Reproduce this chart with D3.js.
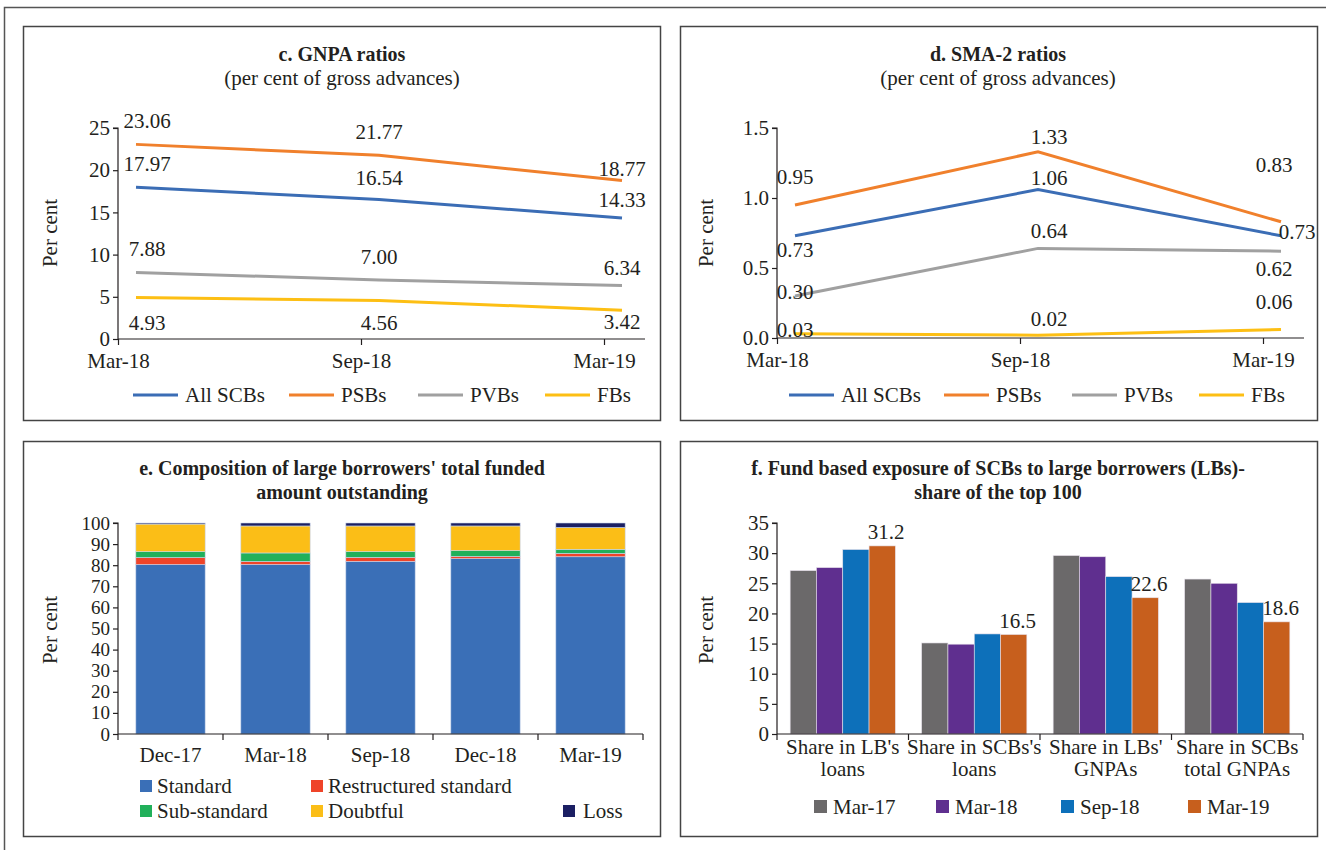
<!DOCTYPE html>
<html><head><meta charset="utf-8">
<script src="https://cdn.jsdelivr.net/npm/d3@7"></script>
<style>
body{margin:0;background:#fff}
svg{display:block}
text{font-family:"Liberation Serif","Times New Roman",serif;fill:#231f20}
</style>
</head><body>
<svg id="chart" width="1326" height="850"></svg>
<script>
// ---------- DATA ----------
const lineDates = ["Mar-18", "Sep-18", "Mar-19"];
const gnpaAll = [17.97, 16.54, 14.33];
const gnpaPSB = [23.06, 21.77, 18.77];
const gnpaPVB = [7.88, 7.00, 6.34];
const gnpaFB = [4.93, 4.56, 3.42];
const smaAll = [0.73, 1.06, 0.73];
const smaPSB = [0.95, 1.33, 0.83];
const smaPVB = [0.30, 0.64, 0.62];
const smaFB = [0.03, 0.02, 0.06];
const lineSeriesNames = ["All SCBs", "PSBs", "PVBs", "FBs"];
const gnpaTicks = [0, 5, 10, 15, 20, 25];
const smaTicks = [0, 0.5, 1.0, 1.5];

const compDates = ["Dec-17", "Mar-18", "Sep-18", "Dec-18", "Mar-19"];
const standard = [80.3, 80.3, 81.8, 83.1, 84.0];
const restructured = [3.3, 1.5, 1.9, 1.1, 1.6];
const subStandard = [2.8, 4.0, 2.7, 2.7, 1.9];
const doubtful = [13.1, 12.8, 12.2, 11.7, 10.4];
const loss = [0.5, 1.4, 1.4, 1.4, 2.1];
const compNames = ["Standard", "Restructured standard", "Sub-standard", "Doubtful", "Loss"];
const compTicks = [0, 10, 20, 30, 40, 50, 60, 70, 80, 90, 100];

const exposureCats = ["Share in LB's|loans", "Share in SCBs's|loans", "Share in LBs'|GNPAs", "Share in SCBs|total GNPAs"];
const expMar17 = [27.1, 15.1, 29.6, 25.7];
const expMar18 = [27.6, 14.9, 29.4, 25.0];
const expSep18 = [30.6, 16.6, 26.1, 21.8];
const expMar19 = [31.2, 16.5, 22.6, 18.6];
const expNames = ["Mar-17", "Mar-18", "Sep-18", "Mar-19"];
const expTicks = [0, 5, 10, 15, 20, 25, 30, 35];

// ---------- STYLE ----------
const lineColors = ["#3b6db5", "#f0802c", "#a0a0a0", "#fdbf14"];
const compColors = ["#3a6fb7", "#ef4429", "#21b05a", "#fbbe17", "#1b1f63"];
const expColors = ["#6b696a", "#5f2f8f", "#0d70ba", "#c75f1d"];
const FS = 21;      // regular text
const FSB = 20;     // bold titles
const axisCol = "#231f20";

// label offsets [dx, dy] relative to each point (text centre)
const gnpaLabelOff = [
  [[11, -24], [0, -22], [0, -18]],  // All
  [[11, -24], [0, -24], [0, -12]],  // PSB
  [[11, -24], [0, -23], [0, -18]],  // PVB
  [[11, 25], [0, 22], [0, 12]]      // FB
];
const smaLabelOff = [
  [[0, 14], [11, -12], [16, -4]],
  [[0, -28], [11, -15], [-7, -57]],
  [[0, -4], [11, -18], [-7, 17]],
  [[0, -4], [11, -17], [-7, -28]]
];

const svg = d3.select("#chart");

// outer frame
svg.append("path").attr("d", "M4.5,850 L4.5,7.5 L1326,7.5")
  .attr("fill", "none").attr("stroke", "#555").attr("stroke-width", 1.5);

// panel boxes
const panels = [[23, 26, 660, 420], [680, 26, 1317, 420], [23, 441, 660, 836], [680, 441, 1317, 836]];
panels.forEach(p => svg.append("rect")
  .attr("x", p[0] + 0.5).attr("y", p[1] + 0.5)
  .attr("width", p[2] - p[0]).attr("height", p[3] - p[1])
  .attr("fill", "none").attr("stroke", "#444").attr("stroke-width", 1.5));

function title(cx, y, lines, bold) {
  lines.forEach((t, i) => {
    const tx = svg.append("text").attr("x", cx).attr("y", y[i]).attr("text-anchor", "middle")
      .attr("font-size", bold[i] ? FSB : FS).text(t);
    if (bold[i]) tx.attr("font-weight", "bold");
  });
}
function yTitle(x, y) {
  svg.append("text").attr("transform", `translate(${x},${y}) rotate(-90)`)
    .attr("text-anchor", "middle").attr("dy", "0.35em").attr("font-size", FS).text("Per cent");
}
function styleAxis(g, fs) {
  g.selectAll("path,line").attr("stroke", axisCol).attr("stroke-width", 1.2);
  g.selectAll("text").attr("font-size", fs || FS).attr("fill", axisCol).style("font-family", '"Liberation Serif",serif');
}

// ---------- LINE PANELS ----------
function linePanel(o) {
  const xt = d3.scalePoint().domain(lineDates).range([o.x0, o.x0 + 486]);
  const y = d3.scaleLinear().domain([0, o.max]).range([o.yb, o.yt]);
  const yAx = svg.append("g").attr("transform", `translate(${o.x0},0)`)
    .call(d3.axisLeft(y).tickValues(o.ticks).tickSize(5).tickPadding(3).tickFormat(o.fmt));
  yAx.select(".domain").attr("d", `M-5,${o.yt}H0V${o.yb}`);
  styleAxis(yAx);
  const xAx = svg.append("g").attr("transform", `translate(0,${o.yb})`)
    .call(d3.axisBottom(xt).tickSize(6).tickPadding(8));
  xAx.select(".domain").attr("d", `M${o.x0},0H${o.x0 + 527}`);
  styleAxis(xAx);
  const off = 18;
  const line = d3.line().x((d, i) => xt(lineDates[i]) + off).y(d => y(d));
  o.series.forEach((s, k) => {
    svg.append("path").datum(s).attr("d", line).attr("fill", "none")
      .attr("stroke", lineColors[k]).attr("stroke-width", 3);
  });
  o.series.forEach((s, k) => {
    s.forEach((v, i) => {
      const lo = o.labelOff[k][i];
      svg.append("text").attr("x", xt(lineDates[i]) + off + lo[0]).attr("y", y(v) + lo[1])
        .attr("dy", "0.35em").attr("text-anchor", "middle").attr("font-size", FS)
        .text(o.lfmt(v));
    });
  });
  // legend
  const lx = o.legX;
  lineSeriesNames.forEach((n, k) => {
    svg.append("line").attr("x1", lx[k]).attr("x2", lx[k] + 45).attr("y1", 395).attr("y2", 395)
      .attr("stroke", lineColors[k]).attr("stroke-width", 3);
    svg.append("text").attr("x", lx[k] + 52).attr("y", 395).attr("dy", "0.35em")
      .attr("font-size", FS).text(n);
  });
}

title(342, [61, 85], ["c. GNPA ratios", "(per cent of gross advances)"], [true, false]);
yTitle(50, 233);
linePanel({
  x0: 118, yb: 339, yt: 128, max: 25, ticks: gnpaTicks, fmt: d3.format("d"),
  series: [gnpaAll, gnpaPSB, gnpaPVB, gnpaFB], labelOff: gnpaLabelOff,
  lfmt: d3.format(".2f"), legX: [133, 289, 418, 545]
});

title(998, [61, 85], ["d. SMA-2 ratios", "(per cent of gross advances)"], [true, false]);
yTitle(706, 233);
linePanel({
  x0: 777, yb: 338, yt: 128, max: 1.5, ticks: smaTicks, fmt: d3.format(".1f"),
  series: [smaAll, smaPSB, smaPVB, smaFB], labelOff: smaLabelOff,
  lfmt: d3.format(".2f"), legX: [789, 944, 1072, 1199]
});

// ---------- STACKED PANEL (e) ----------
title(342, [475, 499], ["e. Composition of large borrowers' total funded", "amount outstanding"], [true, true]);
yTitle(50, 630);
{
  const x = d3.scaleBand().domain(compDates).range([118, 643]).paddingInner(0.34).paddingOuter(0.17);
  const y = d3.scaleLinear().domain([0, 100]).range([734, 523]);
  const rows = compDates.map((d, i) => ({
    date: d, Standard: standard[i], "Restructured standard": restructured[i],
    "Sub-standard": subStandard[i], Doubtful: doubtful[i], Loss: loss[i]
  }));
  const stack = d3.stack().keys(compNames)(rows);
  stack.forEach((layer, k) => {
    svg.append("g").selectAll("rect").data(layer).join("rect")
      .attr("x", d => x(d.data.date)).attr("width", x.bandwidth())
      .attr("y", d => y(d[1])).attr("height", d => y(d[0]) - y(d[1]))
      .attr("fill", compColors[k]).attr("stroke", "#c9d6ec").attr("stroke-width", 0.6);
  });
  const yAx = svg.append("g").attr("transform", "translate(118,0)")
    .call(d3.axisLeft(y).tickValues(compTicks).tickSize(5).tickPadding(3));
  yAx.select(".domain").attr("d", "M-5,523H0V734");
  styleAxis(yAx, 19);
  const xAx = svg.append("g").attr("transform", "translate(0,734)")
    .call(d3.axisBottom(x).tickSize(0).tickPadding(13));
  xAx.select(".domain").attr("d", "M118,0H643");
  const step = x.step();
  compDates.forEach((d, i) => xAx.append("line")
    .attr("x1", x(d) - step * 0.17).attr("x2", x(d) - step * 0.17).attr("y1", 0).attr("y2", 6));
  xAx.append("line").attr("x1", 643).attr("x2", 643).attr("y1", 0).attr("y2", 6);
  styleAxis(xAx);
  const legPos = [[140, 786], [311, 786], [140, 811], [311, 811], [563, 811]];
  compNames.forEach((n, k) => {
    svg.append("rect").attr("x", legPos[k][0]).attr("y", legPos[k][1] - 6).attr("width", 12).attr("height", 12)
      .attr("fill", compColors[k]);
    svg.append("text").attr("x", legPos[k][0] + (k === 4 ? 20 : 17)).attr("y", legPos[k][1]).attr("dy", "0.35em")
      .attr("font-size", FS).text(n);
  });
}

// ---------- GROUPED BAR PANEL (f) ----------
title(998, [475, 499], ["f. Fund based exposure of SCBs to large borrowers (LBs)-", "share of the top 100"], [true, true]);
yTitle(706, 630);
{
  const x0 = d3.scaleBand().domain(exposureCats).range([777, 1303]).paddingInner(0.2).paddingOuter(0.1);
  const x1 = d3.scaleBand().domain(expNames).range([0, x0.bandwidth()]);
  const y = d3.scaleLinear().domain([0, 35]).range([734, 523]);
  const series = [expMar17, expMar18, expSep18, expMar19];
  series.forEach((s, k) => {
    svg.append("g").selectAll("rect").data(s).join("rect")
      .attr("x", (d, i) => x0(exposureCats[i]) + x1(expNames[k])).attr("width", x1.bandwidth())
      .attr("y", d => y(d)).attr("height", d => y(0) - y(d))
      .attr("fill", expColors[k]).attr("stroke", "#e6e0ea").attr("stroke-width", 0.6);
  });
  expMar19.forEach((v, i) => {
    svg.append("text").attr("x", x0(exposureCats[i]) + x1("Mar-19") + x1.bandwidth() / 2 + 4)
      .attr("y", y(v) - 7).attr("text-anchor", "middle").attr("font-size", FS).text(d3.format(".1f")(v));
  });
  const yAx = svg.append("g").attr("transform", "translate(777,0)")
    .call(d3.axisLeft(y).tickValues(expTicks).tickSize(5).tickPadding(3));
  yAx.select(".domain").attr("d", "M-5,523H0V734");
  styleAxis(yAx);
  const xAx = svg.append("g").attr("transform", "translate(0,734)")
    .call(d3.axisBottom(x0).tickSize(0).tickPadding(0).tickFormat(""));
  xAx.select(".domain").attr("d", "M777,0H1303");
  const step = x0.step();
  exposureCats.forEach((c, i) => {
    const bx = 777 + step * i;
    xAx.append("line").attr("x1", bx).attr("x2", bx).attr("y1", 0).attr("y2", 6);
    const cx = x0(c) + x0.bandwidth() / 2;
    c.split("|").forEach((t, j) => xAx.append("text").attr("x", cx).attr("y", 20 + j * 22)
      .attr("text-anchor", "middle").text(t));
  });
  xAx.append("line").attr("x1", 1303).attr("x2", 1303).attr("y1", 0).attr("y2", 6);
  styleAxis(xAx);
  const legX = [814, 936, 1061, 1188];
  expNames.forEach((n, k) => {
    svg.append("rect").attr("x", legX[k]).attr("y", 800).attr("width", 13).attr("height", 13).attr("fill", expColors[k]);
    svg.append("text").attr("x", legX[k] + 19).attr("y", 806.5).attr("dy", "0.35em").attr("font-size", FS).text(n);
  });
}
</script>
</body></html>
